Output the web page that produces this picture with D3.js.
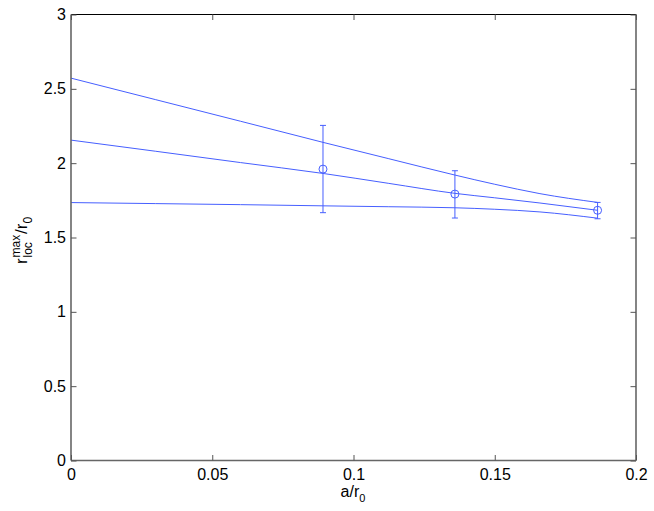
<!DOCTYPE html>
<html><head><meta charset="utf-8">
<script src="https://cdn.jsdelivr.net/npm/d3@7"></script>
<style>body{margin:0;background:#fff}svg{display:block}text{font-family:"Liberation Sans",Arial,Helvetica,sans-serif}</style>
</head><body>
<svg id="c" width="654" height="511"></svg>
<script>
const curveX = [0, 0.03, 0.06, 0.0892, 0.1125, 0.1359, 0.15, 0.166, 0.1864];
const curveUpper = [2.572, 2.427, 2.282, 2.140, 2.030, 1.920, 1.858, 1.795, 1.736];
const curveMiddle = [2.155, 2.080, 2.004, 1.931, 1.864, 1.797, 1.767, 1.732, 1.683];
const curveLower = [1.735, 1.728, 1.721, 1.713, 1.707, 1.700, 1.690, 1.672, 1.630];
const pointX = [0.0892, 0.1359, 0.1864];
const pointY = [1.960, 1.792, 1.683];
const pointLow = [1.667, 1.631, 1.626];
const pointHigh = [2.254, 1.949, 1.736];
const xTicks = [0, 0.05, 0.1, 0.15, 0.2];
const xTickLabels = ["0", "0.05", "0.1", "0.15", "0.2"];
const yTicks = [0, 0.5, 1, 1.5, 2, 2.5, 3];
const yTickLabels = ["0", "0.5", "1", "1.5", "2", "2.5", "3"];

const L = 71, R = 636, T = 14.5, B = 460.5;
const blue = "rgb(70,95,255)";
const svg = d3.select("#c");
const x = d3.scaleLinear().domain([0, 0.2]).range([L, R]);
const y = d3.scaleLinear().domain([0, 3]).range([B, T]);

// curves
const line = d3.line().x(d => x(d[0])).y(d => y(d[1])).curve(d3.curveMonotoneX);
[curveUpper, curveMiddle, curveLower].forEach(s => {
  svg.append("path").datum(curveX.map((v, i) => [v, s[i]]))
    .attr("d", line).attr("fill", "none").attr("stroke", blue).attr("stroke-width", 1);
});

// error bars
const cap = 3;
pointX.forEach((px, i) => {
  const cx = x(px);
  svg.append("line").attr("x1", cx).attr("x2", cx).attr("y1", y(pointLow[i])).attr("y2", y(pointHigh[i]))
    .attr("stroke", blue).attr("stroke-width", 1);
  [pointLow[i], pointHigh[i]].forEach(v => {
    svg.append("line").attr("x1", cx - cap).attr("x2", cx + cap).attr("y1", y(v)).attr("y2", y(v))
      .attr("stroke", blue).attr("stroke-width", 1);
  });
  svg.append("circle").attr("cx", cx).attr("cy", y(pointY[i])).attr("r", 4)
    .attr("fill", "none").attr("stroke", blue).attr("stroke-width", 1);
});

// axes box
svg.append("line").attr("x1", L).attr("x2", R).attr("y1", T).attr("y2", T).attr("stroke", "#000").attr("stroke-width", 1);
svg.append("line").attr("x1", L).attr("x2", L).attr("y1", T).attr("y2", B).attr("stroke", "#666").attr("stroke-width", 1.6);
svg.append("line").attr("x1", L).attr("x2", R).attr("y1", B).attr("y2", B).attr("stroke", "#666").attr("stroke-width", 1.6);
svg.append("line").attr("x1", R).attr("x2", R).attr("y1", T).attr("y2", B).attr("stroke", "#666").attr("stroke-width", 1.6);

const tl = 5.5;
const bottomAxis = d3.axisBottom(x).tickValues(xTicks).tickFormat((d, i) => xTickLabels[i]).tickSizeInner(-tl).tickSizeOuter(0).tickPadding(8);
const gx = svg.append("g").attr("transform", `translate(0,${B})`).call(bottomAxis);
const topAxis = d3.axisTop(x).tickValues(xTicks).tickFormat("").tickSizeInner(-tl).tickSizeOuter(0);
const gxt = svg.append("g").attr("transform", `translate(0,${T})`).call(topAxis);
const leftAxis = d3.axisLeft(y).tickValues(yTicks).tickFormat((d, i) => yTickLabels[i]).tickSizeInner(-tl).tickSizeOuter(0).tickPadding(5);
const gy = svg.append("g").attr("transform", `translate(${L},0)`).call(leftAxis);
const rightAxis = d3.axisRight(y).tickValues(yTicks).tickFormat("").tickSizeInner(-tl).tickSizeOuter(0);
const gyr = svg.append("g").attr("transform", `translate(${R},0)`).call(rightAxis);
[gx, gxt, gy, gyr].forEach(g => {
  g.select(".domain").remove();
  g.selectAll(".tick line").attr("stroke", "#555").attr("stroke-width", 1);
  g.selectAll("text").attr("font-size", 16).attr("fill", "#000").attr("font-family", "Liberation Sans, Arial, sans-serif");
});
gx.selectAll("text").attr("dy", "0.71em");

// x label
const xl = svg.append("text").attr("x", 353).attr("y", 497).attr("text-anchor", "middle").attr("font-size", 16);
xl.append("tspan").text("a/r");
xl.append("tspan").attr("font-size", 11).attr("dy", 5).text("0");

// y label (rotated)
const g = svg.append("g").attr("transform", "translate(27,264) rotate(-90)");
g.append("text").attr("x", 0).attr("y", 0).attr("font-size", 17).text("r");
g.append("text").attr("x", 6.5).attr("y", -7).attr("font-size", 12).text("max");
g.append("text").attr("x", 6.5).attr("y", 5).attr("font-size", 12).text("loc");
const yl2 = g.append("text").attr("x", 30).attr("y", 0).attr("font-size", 17);
yl2.append("tspan").text("/r");
yl2.append("tspan").attr("font-size", 12).attr("dy", 5).text("0");
</script>
</body></html>
